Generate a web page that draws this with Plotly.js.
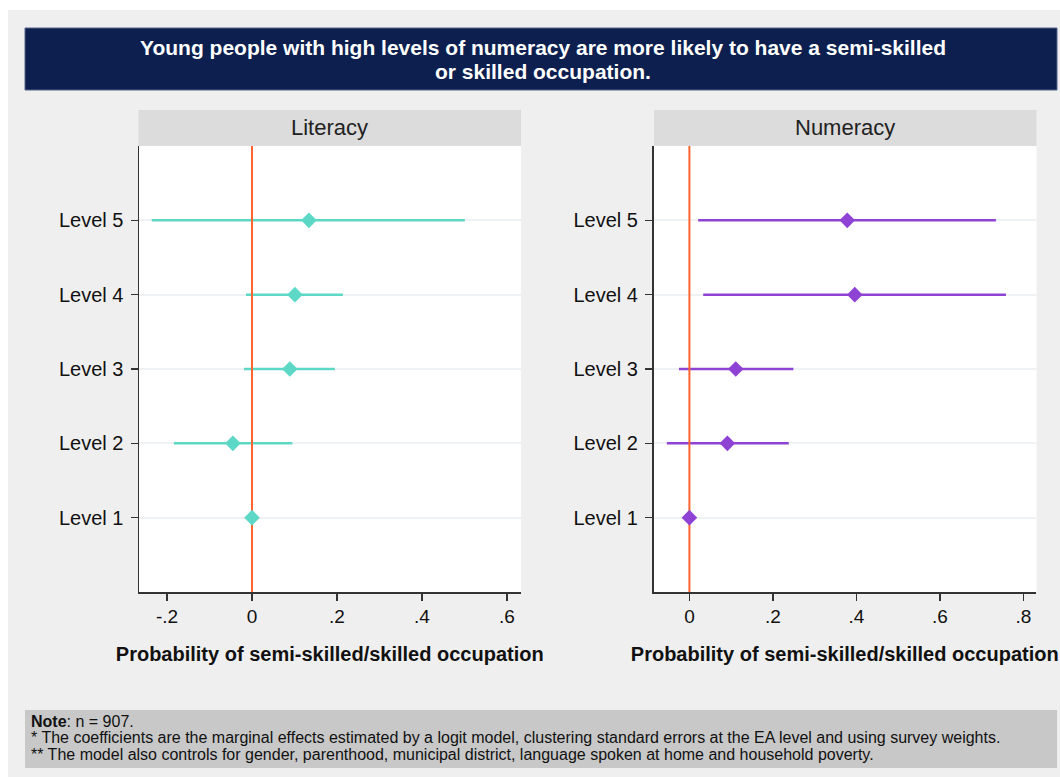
<!DOCTYPE html>
<html>
<head>
<meta charset="utf-8">
<script src="https://cdn.plot.ly/plotly-3.0.1.min.js"></script>
<style>
  html, body { margin: 0; padding: 0; background: #ffffff; }
  #chart { width: 1060px; height: 777px; }
</style>
</head>
<body>
<div id="chart"></div>
<script>
// Skill levels shown on the vertical axis
const levels = [1, 2, 3, 4, 5];
const levelLabels = ["Level 1", "Level 2", "Level 3", "Level 4", "Level 5"];

// Literacy: marginal effects and 95% confidence bounds (Level 1 = reference)
const literacyEffect = [0, -0.045, 0.089, 0.101, 0.134];
const literacyLow    = [null, -0.184, -0.019, -0.014, -0.236];
const literacyHigh   = [null, 0.095, 0.195, 0.214, 0.501];

// Numeracy: marginal effects and 95% confidence bounds (Level 1 = reference)
const numeracyEffect = [0, 0.091, 0.111, 0.396, 0.378];
const numeracyLow    = [null, -0.054, -0.025, 0.033, 0.021];
const numeracyHigh   = [null, 0.238, 0.249, 0.758, 0.734];

// Tick labels for the two horizontal axes
const literacyTicks  = [-0.2, 0, 0.2, 0.4, 0.6];
const literacyTickText = ["-.2", "0", ".2", ".4", ".6"];
const numeracyTicks  = [0, 0.2, 0.4, 0.6, 0.8];
const numeracyTickText = ["0", ".2", ".4", ".6", ".8"];

// Text blocks
const titleLines = [
  "Young people with high levels of numeracy are more likely to have a semi-skilled",
  "or skilled occupation."
];
const noteLines = [
  "<b>Note</b>: n = 907.",
  "* The coefficients are the marginal effects estimated by a logit model, clustering standard errors at the EA level and using survey weights.",
  "** The model also controls for gender, parenthood, municipal district, language spoken at home and household poverty."
];
const xTitle = "Probability of semi-skilled/skilled occupation";

const referenceValue = 0;

const W = 1060, H = 777;
const px = v => v / W;          // pixel column -> paper x
const py = v => 1 - v / H;      // pixel row -> paper y

const FONT = "Liberation Sans, Arial, Helvetica, sans-serif";
const TEAL = "#5dd8c7";
const PURPLE = "#8f43d4";
const ORANGE = "#ff6430";

function ciTrace(lo, hi, color, xa, ya) {
  const x = [], y = [];
  levels.forEach((lv, i) => {
    if (lo[i] === null) return;
    x.push(lo[i], hi[i], null);
    y.push(lv, lv, null);
  });
  return { type: "scatter", mode: "lines", x, y, xaxis: xa, yaxis: ya,
           line: { color, width: 2.5 }, hoverinfo: "skip", showlegend: false };
}

function refTrace(xa, ya) {
  return { type: "scatter", mode: "lines", x: [referenceValue, referenceValue], y: [0, 6],
           xaxis: xa, yaxis: ya, line: { color: ORANGE, width: 2 },
           hoverinfo: "skip", showlegend: false };
}

function pointTrace(vals, color, xa, ya) {
  return { type: "scatter", mode: "markers", x: vals, y: levels, xaxis: xa, yaxis: ya,
           marker: { symbol: "diamond", size: 12, color, line: { width: 0 } },
           showlegend: false };
}

const data = [
  ciTrace(literacyLow, literacyHigh, TEAL, "x", "y"),
  refTrace("x", "y"),
  pointTrace(literacyEffect, TEAL, "x", "y"),
  ciTrace(numeracyLow, numeracyHigh, PURPLE, "x2", "y2"),
  refTrace("x2", "y2"),
  pointTrace(numeracyEffect, PURPLE, "x2", "y2")
];

const yDomain = [py(592), py(146)];

function xAxis(domain, range, ticks, text, anchor) {
  return {
    domain, range, anchor,
    tickmode: "array", tickvals: ticks, ticktext: text,
    ticks: "outside", ticklen: 7, tickwidth: 1.5, tickcolor: "#333",
    showline: true, linecolor: "#333", linewidth: 1.5,
    showgrid: false, zeroline: false,
    tickfont: { family: FONT, size: 19, color: "#111" },
    title: { text: "<b>" + xTitle + "</b>", standoff: 20,
             font: { family: FONT, size: 20, color: "#111" } },
    fixedrange: true
  };
}

function yAxis(anchor) {
  return {
    domain: yDomain, range: [0, 6], anchor,
    tickmode: "array", tickvals: levels, ticktext: levelLabels,
    ticks: "outside", ticklen: 7, tickwidth: 1.5, tickcolor: "#333",
    ticklabelstandoff: 3,
    showline: true, linecolor: "#333", linewidth: 1.5,
    showgrid: true, gridcolor: "#eef2f4", gridwidth: 2,
    zeroline: false,
    tickfont: { family: FONT, size: 20, color: "#111" },
    fixedrange: true
  };
}

const shapes = [
  // page background panel
  { type: "rect", xref: "paper", yref: "paper", x0: px(8), x1: 1, y0: 0, y1: py(10),
    fillcolor: "#efefef", line: { width: 0 }, layer: "below" },
  // title banner
  { type: "rect", xref: "paper", yref: "paper", x0: px(25), x1: px(1057), y0: py(90), y1: py(28),
    fillcolor: "#0c1f4f", line: { width: 1, color: "#56658a" }, layer: "below" },
  // panel headers
  { type: "rect", xref: "paper", yref: "paper", x0: px(138.5), x1: px(521), y0: py(146), y1: py(110),
    fillcolor: "#dcdcdc", line: { width: 0 }, layer: "below" },
  { type: "rect", xref: "paper", yref: "paper", x0: px(654), x1: px(1036.5), y0: py(146), y1: py(110),
    fillcolor: "#dcdcdc", line: { width: 0 }, layer: "below" },
  // plotting regions
  { type: "rect", xref: "paper", yref: "paper", x0: px(138.5), x1: px(521), y0: py(592), y1: py(146),
    fillcolor: "#ffffff", line: { width: 0 }, layer: "below" },
  { type: "rect", xref: "paper", yref: "paper", x0: px(654), x1: px(1036.5), y0: py(592), y1: py(146),
    fillcolor: "#ffffff", line: { width: 0 }, layer: "below" },
  // note box
  { type: "rect", xref: "paper", yref: "paper", x0: px(25), x1: px(1057), y0: py(768), y1: py(710),
    fillcolor: "#c8c8c8", line: { width: 0 }, layer: "below" }
];

const annotations = [];
const titleRows = [48, 71];
titleLines.forEach((t, i) => annotations.push({
  xref: "paper", yref: "paper", x: px(543), y: py(titleRows[i]), xanchor: "center", yanchor: "middle",
  text: "<b>" + t + "</b>", showarrow: false,
  font: { family: FONT, size: 21, color: "#ffffff" }
}));
annotations.push(
  { xref: "paper", yref: "paper", x: px(329.5), y: py(128), xanchor: "center", yanchor: "middle",
    text: "Literacy", showarrow: false, font: { family: FONT, size: 22, color: "#222" } },
  { xref: "paper", yref: "paper", x: px(845), y: py(128), xanchor: "center", yanchor: "middle",
    text: "Numeracy", showarrow: false, font: { family: FONT, size: 22, color: "#222" } }
);
const noteRows = [721, 737.5, 754];
noteLines.forEach((t, i) => annotations.push({
  xref: "paper", yref: "paper", x: px(29), y: py(noteRows[i]), xanchor: "left", yanchor: "middle",
  align: "left", showarrow: false, text: t,
  font: { family: FONT, size: 16, color: "#111" }
}));

const layout = {
  width: W, height: H,
  margin: { l: 0, r: 0, t: 0, b: 0, pad: 0 },
  paper_bgcolor: "#ffffff",
  plot_bgcolor: "rgba(0,0,0,0)",
  showlegend: false,
  xaxis: xAxis([px(139), px(520.5)], [-0.266, 0.632], literacyTicks, literacyTickText, "y"),
  yaxis: yAxis("x"),
  xaxis2: xAxis([px(653.5), px(1036)], [-0.086, 0.830], numeracyTicks, numeracyTickText, "y2"),
  yaxis2: yAxis("x2"),
  shapes, annotations
};

Plotly.newPlot("chart", data, layout, { displayModeBar: false, staticPlot: true });
</script>
</body>
</html>
